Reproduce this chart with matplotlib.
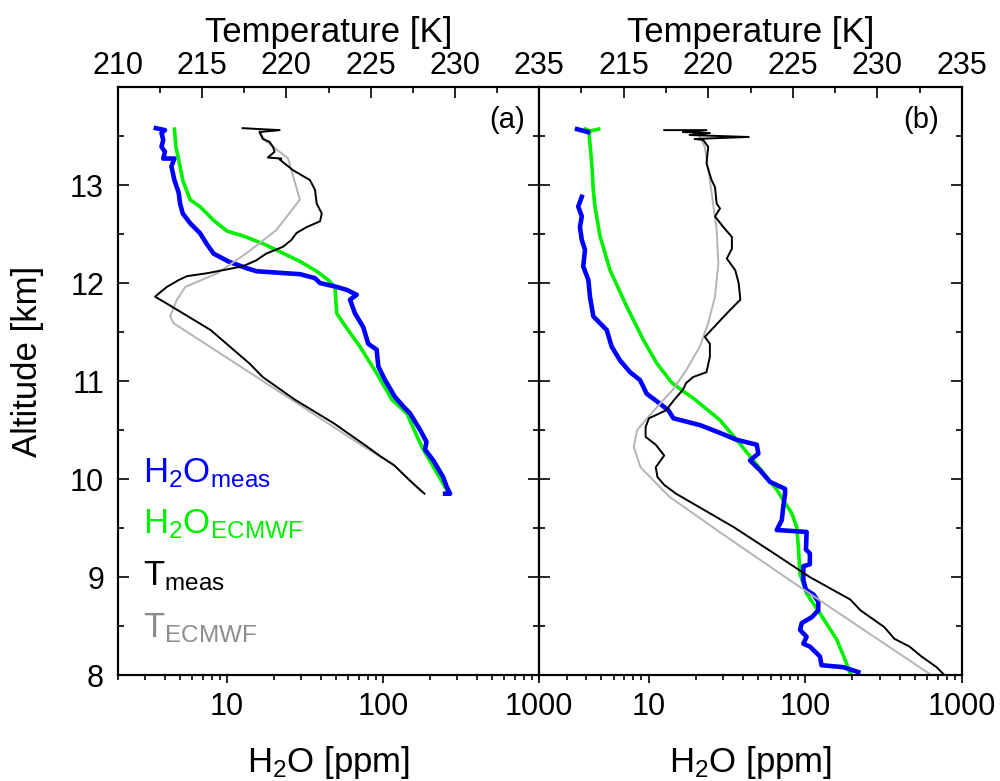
import numpy as np
import matplotlib
matplotlib.use('Agg')
import matplotlib.pyplot as plt
from matplotlib.ticker import FixedLocator, LogLocator, MultipleLocator, NullFormatter, FuncFormatter

plt.rcParams['font.family'] = ['Liberation Sans', 'DejaVu Sans']
plt.rcParams['mathtext.fontset'] = 'custom'
plt.rcParams['mathtext.rm'] = 'Liberation Sans'
plt.rcParams['mathtext.it'] = 'Liberation Sans:italic'
plt.rcParams['mathtext.bf'] = 'Liberation Sans:bold'

nan = np.nan

# ---- panel (a) ----
alt_h2o_meas_a = [13.58, 13.56, 13.53, 13.46, 13.39, 13.34, 13.27, 13.27, 13.19, 13.05,
                  12.92, 12.81, 12.71, 12.61, 12.51, 12.40, 12.30, 12.22, 12.15, 12.12,
                  12.09, 12.05, 12.00, 11.96, 11.93, 11.88, 11.83, 11.69, 11.55, 11.38,
                  11.32, 11.15, 11.01, 10.84, 10.74, 10.67, 10.50, 10.38, 10.30, 10.19,
                  10.02, 9.92, 9.85, 9.85]
h2o_meas_a = [3.5, 4.0, 3.8, 3.9, 3.8, 4.0, 3.9, 4.6, 4.4, 4.6,
              4.9, 5.0, 5.2, 5.8, 6.7, 7.4, 8.2, 10.2, 13.4, 15.5,
              29.4, 36.6, 39.4, 50.5, 58.5, 67.8, 61.4, 66.1, 74.7, 80.4,
              91, 93.3, 103, 119, 135, 149, 173, 190, 186, 210,
              243, 256, 269, 250]

alt_h2o_ecmwf_a = [13.57, 13.39, 13.26, 13.05, 12.85, 12.78, 12.64, 12.53, 12.48, 12.40,
                   12.32, 12.22, 12.12, 12.03, 11.96, 11.69, 11.59, 11.35, 11.08, 10.81,
                   10.67, 10.33, 9.89, 9.85]
h2o_ecmwf_a = [4.6, 4.7, 4.9, 5.2, 5.8, 6.7, 8.2, 10.0, 12.7, 17.1,
               21.8, 29.4, 37.5, 44.6, 49.2, 50.5, 55.6, 71.2, 91, 114,
               142, 177, 256, 262]

alt_t_meas_a = [13.58, 13.56, 13.54, 13.47, 13.44, 13.39, 13.34, 13.28, 13.27, 13.26,
                13.15, 13.05, 12.95, 12.81, 12.71, 12.63, 12.57, 12.51, 12.44, 12.37,
                12.30, 12.23, 12.17, 12.10, 12.07, 12.03, 11.96, 11.89, 11.86, 11.79,
                11.52, 11.18, 11.04, 10.81, 10.57, 10.33, 10.23, 10.14, 9.99, 9.85]
t_meas_a = [217.4, 219.6, 218.4, 218.6, 219.0, 219.2, 219.3, 218.9, 219.7, 219.6,
            220.4, 221.4, 221.7, 221.8, 222.1, 222.0, 221.2, 220.6, 220.3, 219.8,
            218.8, 218.2, 217.4, 215.3, 214.1, 213.6, 212.9, 212.4, 212.2, 212.9,
            215.5, 217.8, 218.6, 220.5, 222.8, 224.8, 225.6, 226.4, 227.3, 228.2]

alt_t_ecmwf_a = [13.56, 13.46, 13.27, 12.85, 12.54, 12.30, 12.10, 11.96, 11.83, 11.66,
                 11.59, 10.81, 10.33, 10.14, 9.87]
t_ecmwf_a = [218.4, 218.7, 220.1, 220.8, 219.4, 217.6, 215.9, 214.0, 213.5, 213.1,
             213.3, 220.3, 224.6, 226.4, 228.0]

# ---- panel (b) ----
alt_h2o_meas_b = [13.57, 13.55, 13.54, nan, 12.88, 12.78, 12.68, 12.57, 12.44, 12.34,
                  12.17, 12.03, 11.86, 11.66, 11.59, 11.52, 11.35, 11.21, 11.09, 11.01,
                  10.87, 10.77, 10.70, 10.62, 10.55, 10.47, 10.40, 10.35, 10.26, 10.19,
                  10.09, 9.97, 9.90, 9.85, 9.72, 9.58, 9.48, 9.46, 9.28, 9.24,
                  9.13, 9.11, 8.97, 8.87, 8.82, 8.75, 8.66, 8.59, 8.53, 8.46,
                  8.39, 8.32, 8.29, 8.19, 8.10, 8.08, 8.03]
h2o_meas_b = [3.5, 3.9, 4.1, nan, 3.75, 3.56, 3.75, 3.65, 3.75, 3.93,
              3.83, 4.13, 4.23, 4.44, 4.90, 5.41, 5.82, 6.58, 7.62, 8.82,
              9.73, 11.8, 13.4, 14.4, 21.3, 28.6, 36.5, 49.0, 50.2, 44.4,
              51.4, 59.6, 74.3, 74.3, 72.4, 70.8, 65.8, 102, 101, 107,
              107, 97.2, 97.2, 101, 113, 121, 121, 110, 94.9, 92.6,
              102, 97.2, 107, 124, 127, 175, 218]

alt_h2o_ecmwf_b = [13.57, 13.55, 13.57, 13.55, 13.49, 13.22, 12.95, 12.78, 12.48, 12.13,
                   11.76, 11.42, 11.18, 10.98, 10.81, 10.60, 10.40, 10.19, 9.89, 9.65,
                   9.51, 9.31, 9.03, 8.83, 8.63, 8.36, 8.15, 8.02]
h2o_ecmwf_b = [4.8, 4.2, 3.95, 4.2, 4.19, 4.34, 4.44, 4.55, 4.90, 5.68,
               7.26, 9.26, 11.3, 14.1, 19.8, 28.6, 36.5, 46.6, 65.8, 82.0,
               88.2, 90.3, 92.6, 102, 124, 159, 180, 193]

alt_t_meas_b = [13.56, 13.56, 13.54, 13.53, 13.51, 13.49, 13.47, 13.46, 13.39, 13.22,
                13.05, 12.98, 12.81, 12.76, 12.68, 12.57, 12.47, 12.35, 12.25, 12.13,
                12.00, 11.83, 11.69, 11.45, 11.38, 11.25, 11.09, 11.04, 10.98, 10.91,
                10.81, 10.70, 10.62, 10.53, 10.43, 10.35, 10.24, 10.12, 10.02, 9.94,
                9.85, 9.77, 9.51, 9.24, 9.00, 8.77, 8.66, 8.49, 8.37, 8.29,
                8.19, 8.08, 8.01]
t_meas_b = [217.4, 219.9, 218.5, 220.1, 218.9, 222.4, 219.2, 219.7, 220.0, 219.9,
            220.2, 220.4, 220.5, 220.7, 220.4, 220.9, 221.4, 221.4, 221.1, 221.6,
            221.8, 221.9, 221.1, 219.8, 220.1, 220.1, 219.9, 219.1, 218.7, 218.5,
            218.0, 217.5, 216.5, 216.3, 216.3, 216.9, 217.4, 216.9, 217.0, 217.4,
            218.1, 218.9, 221.5, 223.9, 226.0, 228.4, 229.0, 230.4, 231.0, 231.9,
            232.6, 233.5, 233.9]

alt_t_ecmwf_b = [13.49, 13.39, 13.05, 12.54, 12.20, 11.86, 11.59, 11.35, 11.11, 10.91,
                 10.70, 10.50, 10.33, 10.12, 9.82, 9.48, 8.97, 8.46, 8.01]
t_ecmwf_b = [219.5, 219.8, 220.1, 220.5, 220.6, 220.4, 220.0, 219.5, 218.7, 217.9,
             216.8, 215.8, 215.6, 216.0, 217.7, 220.5, 224.8, 229.2, 233.1]

h2o_ticks = [10, 100, 1000]
alt_ticks = [8, 9, 10, 11, 12, 13]
alt_minor = [8.5, 9.5, 10.5, 11.5, 12.5, 13.5]

blue = '#0000ff'
green = '#00f000'
gray_line = '#b4b4b4'
gray_text = '#8c8c8c'
fs_tick = 22
fs_label = 25


def setup(ax, show_left, hide_first_temp):
    ax.set_xscale('log')
    ax.set_xlim(2, 1000)
    ax.set_ylim(8, 14)
    tx = ax.twiny()
    tx.set_xlim(210, 235)

    ax.xaxis.set_major_locator(FixedLocator(h2o_ticks))
    ax.xaxis.set_major_formatter(FuncFormatter(lambda v, p: '%d' % v))
    ax.xaxis.set_minor_locator(LogLocator(base=10, subs=np.arange(2, 10), numticks=20))
    ax.xaxis.set_minor_formatter(NullFormatter())
    ax.yaxis.set_major_locator(FixedLocator(alt_ticks))
    ax.yaxis.set_minor_locator(FixedLocator(alt_minor))

    ax.tick_params(axis='x', which='both', direction='out', bottom=True, top=False,
                   labelsize=fs_tick, width=1.2, pad=6)
    ax.tick_params(axis='x', which='major', length=6)
    ax.tick_params(axis='x', which='minor', length=3.5)
    ax.tick_params(axis='y', which='both', direction='in', left=True, right=True,
                   labelleft=show_left, labelsize=fs_tick, width=1.2, pad=10)
    ax.tick_params(axis='y', which='major', length=8)
    ax.tick_params(axis='y', which='minor', length=4)

    tx.xaxis.set_major_locator(MultipleLocator(5))
    tx.xaxis.set_minor_locator(MultipleLocator(2.5))
    if hide_first_temp:
        tx.xaxis.set_major_formatter(FuncFormatter(lambda v, p: '' if v < 211 else '%d' % v))
    else:
        tx.xaxis.set_major_formatter(FuncFormatter(lambda v, p: '%d' % v))
    tx.tick_params(axis='x', which='both', direction='in', top=True, bottom=False,
                   labelsize=fs_tick, width=1.2, pad=4)
    tx.tick_params(axis='x', which='major', length=8)
    tx.tick_params(axis='x', which='minor', length=4)

    for a in (ax, tx):
        for s in a.spines.values():
            s.set_linewidth(1.5)
    return tx


fig = plt.figure(figsize=(10, 7.81), dpi=100)
ax_a = fig.add_axes([0.118, 0.1357, 0.421, 0.7529])
ax_b = fig.add_axes([0.539, 0.1357, 0.423, 0.7529])
tx_a = setup(ax_a, True, False)
tx_b = setup(ax_b, False, True)

ax_a.plot(h2o_ecmwf_a, alt_h2o_ecmwf_a, color=green, lw=2.6)
ax_a.plot(h2o_meas_a, alt_h2o_meas_a, color=blue, lw=3.3)
tx_a.plot(t_ecmwf_a, alt_t_ecmwf_a, color=gray_line, lw=1.4)
tx_a.plot(t_meas_a, alt_t_meas_a, color='black', lw=1.4)

ax_b.plot(h2o_ecmwf_b, alt_h2o_ecmwf_b, color=green, lw=2.6)
ax_b.plot(h2o_meas_b, alt_h2o_meas_b, color=blue, lw=3.3)
tx_b.plot(t_ecmwf_b, alt_t_ecmwf_b, color=gray_line, lw=1.4)
tx_b.plot(t_meas_b, alt_t_meas_b, color='black', lw=1.4)

ax_a.text(0.924, 0.944, '(a)', transform=ax_a.transAxes, ha='center', va='center', fontsize=21)
ax_b.text(0.903, 0.944, '(b)', transform=ax_b.transAxes, ha='center', va='center', fontsize=21)

# axis titles
for xc in (0.3285, 0.7505):
    fig.text(xc, 0.946, 'Temperature [K]', ha='center', va='baseline', fontsize=fs_label)
    fig.text(xc, 0.0115, r'H$_2$O [ppm]', ha='center', va='baseline', fontsize=fs_label)
fig.text(0.028, 0.5378, 'Altitude [km]', rotation=90, ha='center', va='center', fontsize=fs_label)

# legend written as coloured text
fig.text(0.143, 0.3829, r'H$_2$O$_{\mathrm{meas}}$', color=blue, fontsize=fs_label, va='baseline')
fig.text(0.143, 0.3175, r'H$_2$O$_{\mathrm{ECMWF}}$', color=green, fontsize=fs_label, va='baseline')
fig.text(0.143, 0.2510, r'T$_{\mathrm{meas}}$', color='black', fontsize=fs_label, va='baseline')
fig.text(0.143, 0.1844, r'T$_{\mathrm{ECMWF}}$', color=gray_text, fontsize=fs_label, va='baseline')

fig.savefig('out.png', dpi=100)
